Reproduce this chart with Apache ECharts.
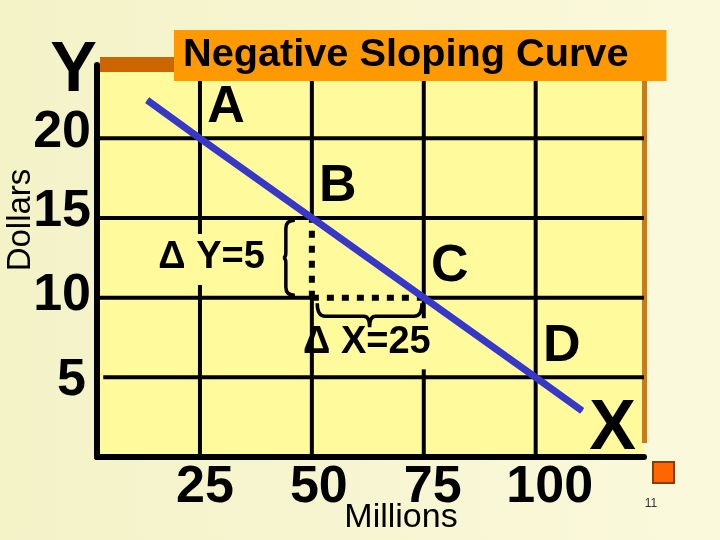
<!DOCTYPE html>
<html>
<head>
<meta charset="utf-8">
<script src="https://cdn.jsdelivr.net/npm/echarts@6/dist/echarts.min.js"></script>
<style>
  html, body { margin: 0; padding: 0; }
  #chart { width: 720px; height: 540px; }
</style>
</head>
<body>
<div id="chart"></div>
<script>
// ---- data ----
const titleText = 'Negative Sloping Curve';
const xTicks = [25, 50, 75, 100];
const yTicks = [5, 10, 15, 20];
const xAxisName = 'X';
const yAxisName = 'Y';
const xAxisTitle = 'Millions';
const yAxisTitle = 'Dollars';
const slideNumber = '11';

// blue demand-like line (Millions, Dollars)
const curveX = [13.2, 25, 50, 75, 100, 110.4];
const curveY = [22.4, 20, 15, 10, 5, 2.9];
const pointNames = ['', 'A', 'B', 'C', 'D', ''];

// grid segments: x1, y1, x2, y2, dotted(1)/solid(0)
const segX1 = [2, 2, 2, 50, 75, 3.4, 25, 25, 50, 50, 50, 75, 75, 100];
const segY1 = [20, 15, 10, 10, 10, 5, 0, 14.0, 0, 10, 15, 0, 8.7, 0];
const segX2 = [124.2, 124.2, 50, 75, 124.2, 124.2, 25, 25, 50, 50, 50, 75, 75, 100];
const segY2 = [20, 15, 10, 10, 10, 5, 10.8, 24.6, 10, 15, 24.6, 5.5, 24.6, 24.6];
const segDotted = [0, 0, 0, 1, 0, 0, 0, 0, 0, 1, 0, 0, 0, 0];

// annotations: delta labels and braces
const deltaLabels = ['\u0394 Y=5', '\u0394 X=25'];
const deltaX = [27.6, 62.3];
const deltaY = [12.5, 7.17];
const braceVert = [[46.2, 14.85, 10.15]];   // x, yTop, yBottom
const braceHorz = [[51.2, 74.6, 9.65]];     // xLeft, xRight, y

// ---- chart ----
const FF = '"Liberation Sans", Arial, Helvetica, sans-serif';
const chart = echarts.init(document.getElementById('chart'));

const segData = segX1.map((x, i) => [x, segY1[i], segX2[i], segY2[i], segDotted[i]]);

const yRich = {
  y20: { padding: [0, 0, 12, 0] },
  y15: { padding: [0, 0, 13, 0] },
  y10: { padding: [0, 0, 3, 0] },
  y5:  { padding: [6, 5, 0, 0] }
};
const xRich = {
  x25:  { padding: [0, 0, 0, 10] },
  x50:  { padding: [0, 0, 0, 14] },
  x75:  { padding: [0, 0, 0, 18] },
  x100: { padding: [0, 0, 0, 28] }
};
[yRich, xRich].forEach(r => Object.keys(r).forEach(k => Object.assign(r[k], {
  fontSize: 52, fontWeight: 'bold', color: '#000', fontFamily: FF
})));

const option = {
  animation: false,
  backgroundColor: {
    type: 'linear', x: 0, y: 0, x2: 1, y2: 0,
    colorStops: [{ offset: 0, color: '#F4F2C7' }, { offset: 1, color: '#FAF9DC' }]
  },
  title: {
    text: titleText,
    left: 174, top: 30,
    padding: [0, 38, 0, 9],
    backgroundColor: '#FF9900',
    textStyle: { fontSize: 39.7, fontWeight: 'bold', color: '#000', lineHeight: 51, fontFamily: FF }
  },
  grid: {
    left: 97, right: 76, top: 65, bottom: 83,
    show: true, backgroundColor: '#FFFB9C', borderWidth: 0
  },
  xAxis: {
    type: 'value', min: 2, max: 124.2,
    axisLine: { show: true, onZero: false, lineStyle: { color: '#000', width: 6 } },
    axisTick: { show: false },
    splitLine: { show: false },
    axisLabel: {
      customValues: xTicks,
      margin: 5,
      lineHeight: 52,
      formatter: v => '{x' + v + '|' + v + '}',
      rich: xRich,
      fontSize: 52, fontWeight: 'bold', color: '#000', fontFamily: FF
    },
    name: xAxisName, nameLocation: 'end', nameGap: -8,
    nameMoveOverlap: false,
    nameTextStyle: {
      fontSize: 70, fontWeight: 'bold', color: '#000', fontFamily: FF,
      align: 'right', verticalAlign: 'bottom', lineHeight: 54
    }
  },
  yAxis: {
    type: 'value', min: 0, max: 24.6,
    axisLine: { show: true, onZero: false, lineStyle: { color: '#000', width: 6 } },
    axisTick: { show: false },
    splitLine: { show: false },
    axisLabel: {
      customValues: yTicks,
      margin: 6,
      formatter: v => '{y' + v + '|' + v + '}',
      rich: yRich,
      fontSize: 52, fontWeight: 'bold', color: '#000', fontFamily: FF
    },
    name: yAxisName, nameLocation: 'end', nameGap: -7,
    nameMoveOverlap: false,
    nameTextStyle: {
      fontSize: 70, fontWeight: 'bold', color: '#000', fontFamily: FF,
      align: 'right', verticalAlign: 'middle'
    }
  },
  series: [
    {
      type: 'custom', name: 'grid', silent: true, z: 1,
      data: segData,
      renderItem: (params, api) => {
        const p1 = api.coord([api.value(0), api.value(1)]);
        const p2 = api.coord([api.value(2), api.value(3)]);
        const dotted = api.value(4) === 1;
        return {
          type: 'line',
          shape: { x1: p1[0], y1: p1[1], x2: p2[0], y2: p2[1] },
          style: { stroke: '#000', lineWidth: dotted ? 6 : 4, lineDash: dotted ? [7, 8] : null, lineCap: 'butt' }
        };
      }
    },
    {
      type: 'custom', name: 'braceV', silent: true, z: 1,
      data: braceVert,
      renderItem: (params, api) => {
        const t = api.coord([api.value(0), api.value(1)]);
        const b = api.coord([api.value(0), api.value(2)]);
        const xR = t[0], xM = xR - 9, xP = xR - 12, yT = t[1], yB = b[1], yM = (yT + yB) / 2;
        const d = `M${xR},${yT} Q${xM},${yT} ${xM},${yT + 8} L${xM},${yM - 5} Q${xM},${yM} ${xP},${yM} Q${xM},${yM} ${xM},${yM + 5} L${xM},${yB - 8} Q${xM},${yB} ${xR},${yB}`;
        return { type: 'path', shape: { pathData: d }, style: { stroke: '#000', lineWidth: 3.5, fill: null } };
      }
    },
    {
      type: 'custom', name: 'braceH', silent: true, z: 1,
      data: braceHorz,
      renderItem: (params, api) => {
        const l = api.coord([api.value(0), api.value(2)]);
        const r = api.coord([api.value(1), api.value(2)]);
        const xL = l[0], xR = r[0], yT = l[1], yS = yT + 13, yP = yT + 24, xM = (xL + xR) / 2;
        const d = `M${xL},${yT} Q${xL},${yS} ${xL + 8},${yS} L${xM - 6},${yS} Q${xM},${yS} ${xM},${yP} Q${xM},${yS} ${xM + 6},${yS} L${xR - 8},${yS} Q${xR},${yS} ${xR},${yT}`;
        return { type: 'path', shape: { pathData: d }, style: { stroke: '#000', lineWidth: 3.5, fill: null } };
      }
    },
    {
      type: 'line', name: 'curve', z: 3, silent: true,
      data: curveX.map((x, i) => ({ value: [x, curveY[i]], name: pointNames[i] })),
      lineStyle: { color: '#3838C8', width: 7, cap: 'butt' },
      itemStyle: { color: '#3838C8' },
      symbol: 'circle', symbolSize: 1,
      label: {
        show: true, position: 'inside', offset: [26, -31],
        formatter: p => p.name,
        fontSize: 52, fontWeight: 'bold', color: '#000', fontFamily: FF
      }
    },
    {
      type: 'scatter', name: 'deltas', z: 4, silent: true,
      symbolSize: 0,
      itemStyle: { opacity: 1 },
      data: deltaX.map((x, i) => ({ value: [x, deltaY[i]], name: deltaLabels[i] })),
      label: {
        show: true, position: 'inside',
        formatter: p => p.name,
        fontSize: 38, fontWeight: 'bold', color: '#000', fontFamily: FF
      }
    }
  ],
  graphic: [
    { type: 'rect', shape: { x: 100, y: 57, width: 547, height: 15 }, style: { fill: '#CC6600' } },
    { type: 'rect', shape: { x: 642, y: 72, width: 5, height: 371 }, style: { fill: '#C87A1E' } },
    { type: 'rect', shape: { x: 653, y: 462, width: 21, height: 21 }, style: { fill: '#FF6600', stroke: '#80400A', lineWidth: 2 } },
    { type: 'text', x: 651, y: 504, style: { text: slideNumber, fontSize: 12, fill: '#333', align: 'center', verticalAlign: 'middle', fontFamily: FF } },
    { type: 'text', x: 21, y: 220, rotation: Math.PI / 2, style: { text: yAxisTitle, fontSize: 33, fill: '#000', align: 'center', verticalAlign: 'middle', fontFamily: FF } },
    { type: 'text', x: 401, y: 518, style: { text: xAxisTitle, fontSize: 34, fill: '#000', align: 'center', verticalAlign: 'middle', fontFamily: FF } }
  ]
};
chart.setOption(option);
</script>
</body>
</html>
